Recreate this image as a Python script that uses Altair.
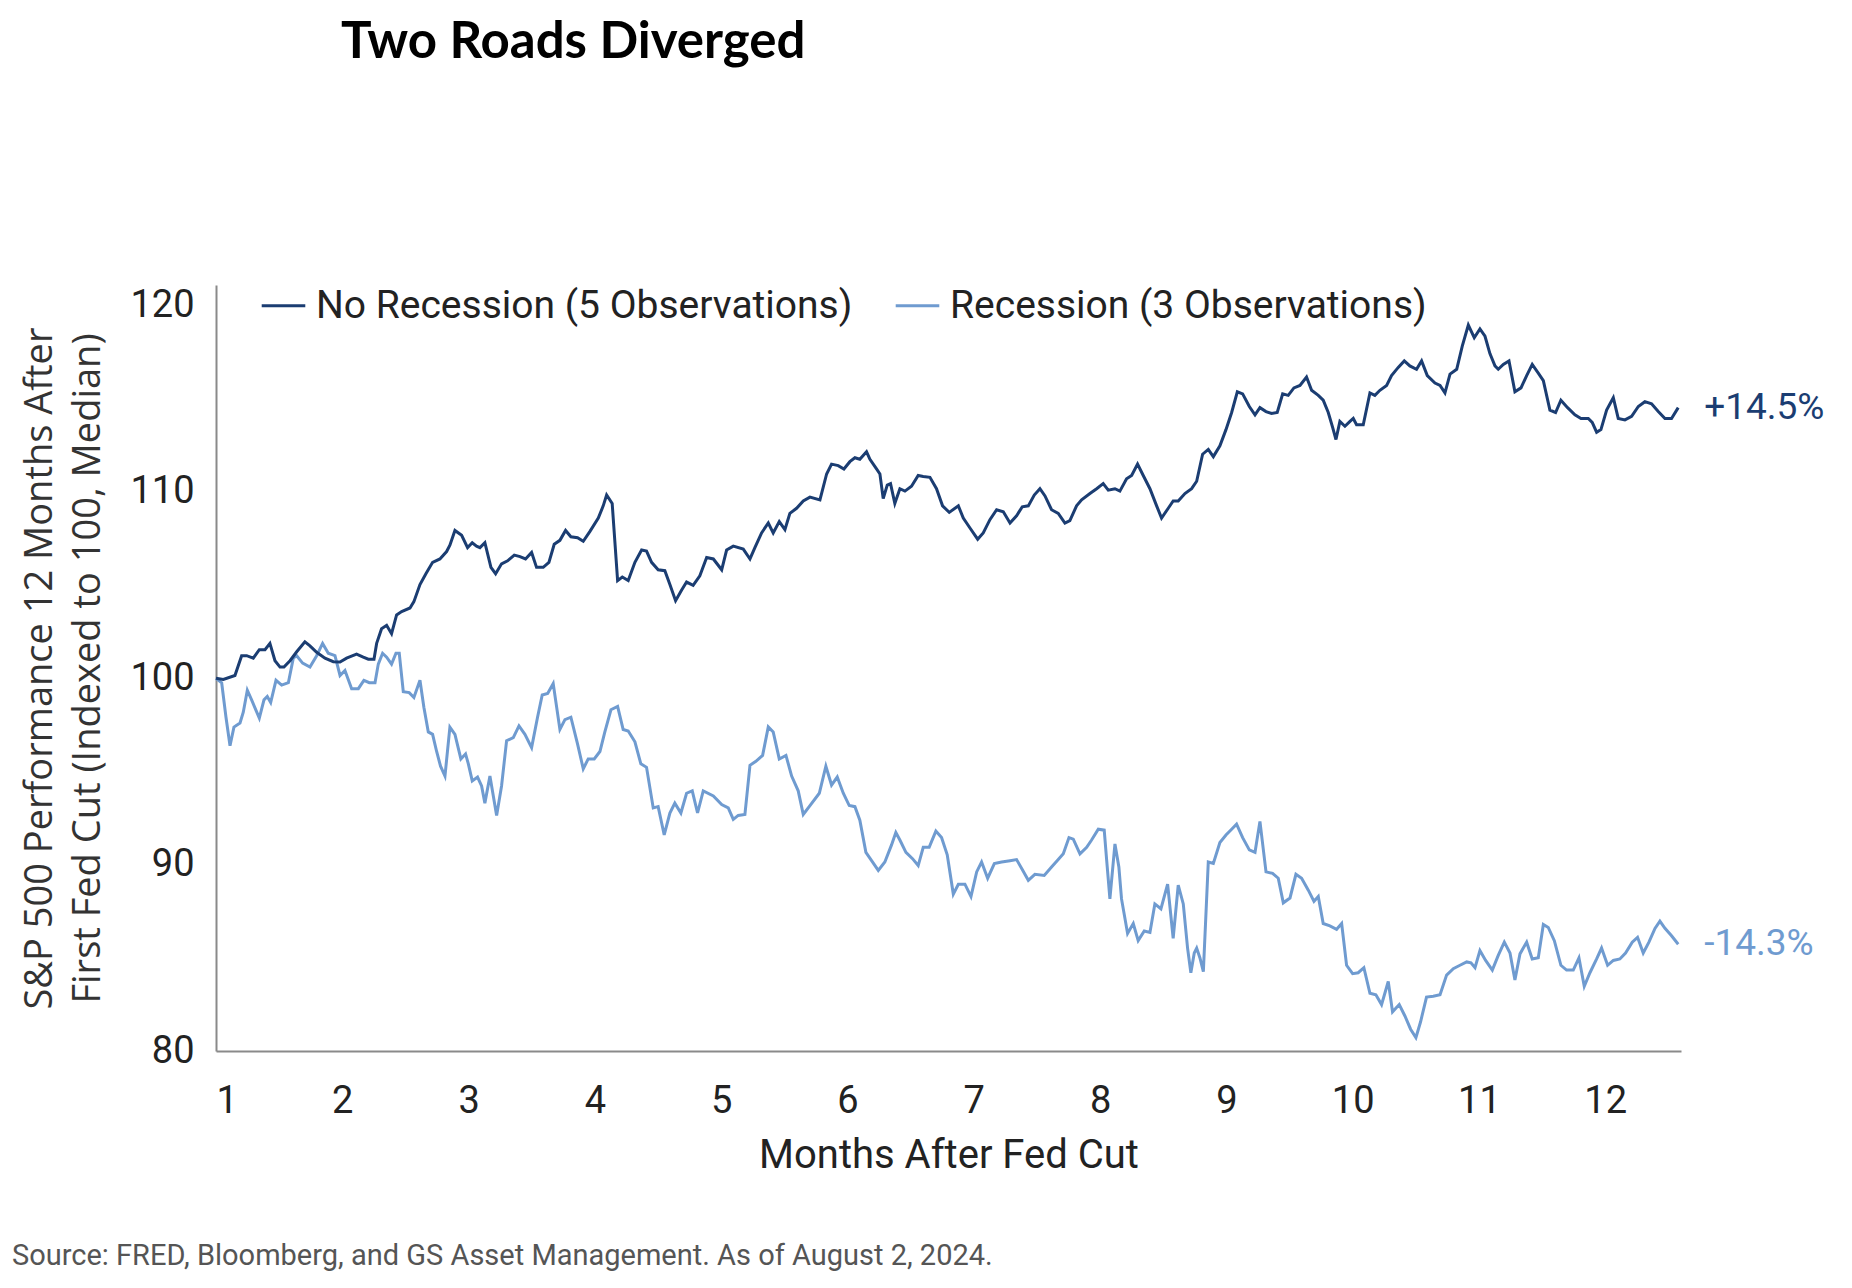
import altair as alt
import pandas as pd

# ---------------- data ----------------
series_names = ["No Recession (5 Observations)", "Recession (3 Observations)"]
series_colors = ["#1b3d72", "#6f9bd0"]
end_labels = ["+14.5%", "-14.3%"]

nr_month = [1.0, 1.058, 1.150, 1.203, 1.243, 1.295, 1.343, 1.388, 1.427, 1.467, 1.507, 1.538, 1.586, 1.639,
            1.704, 1.744, 1.797, 1.863, 1.929, 1.982, 2.034, 2.113, 2.166, 2.206, 2.251, 2.272, 2.311, 2.351,
            2.390, 2.430, 2.470, 2.536, 2.567, 2.615, 2.662, 2.715, 2.773, 2.826, 2.852, 2.892,
            2.945, 2.992, 3.029, 3.063, 3.090, 3.129, 3.177, 3.214, 3.261, 3.309, 3.362, 3.407, 3.451, 3.499,
            3.538, 3.591, 3.636, 3.678, 3.723, 3.768, 3.810, 3.863, 3.908, 3.961, 4.027, 4.066, 4.093, 4.137,
            4.180, 4.217, 4.264, 4.317, 4.370, 4.409, 4.449, 4.501, 4.554, 4.594, 4.639, 4.686, 4.726, 4.778,
            4.831, 4.885, 4.938, 5.004, 5.043, 5.096, 5.175, 5.228, 5.267, 5.320, 5.373, 5.412, 5.460, 5.505,
            5.544, 5.597, 5.650, 5.703, 5.782, 5.835, 5.874, 5.927, 5.972, 6.019, 6.059, 6.098, 6.151, 6.178,
            6.230, 6.257, 6.283, 6.315, 6.341, 6.375, 6.415, 6.455, 6.507, 6.560, 6.600, 6.653, 6.705, 6.753,
            6.806, 6.878, 6.917, 6.970, 7.031, 7.075, 7.128, 7.181, 7.234, 7.287, 7.339, 7.384, 7.432, 7.479,
            7.524, 7.564, 7.616, 7.669, 7.722, 7.761, 7.814, 7.854, 7.920, 7.973, 8.025, 8.065, 8.118, 8.157,
            8.210, 8.250, 8.297, 8.342, 8.395, 8.448, 8.487, 8.540, 8.579, 8.619, 8.672, 8.725,
            8.765, 8.812, 8.857, 8.897, 8.949, 8.997, 9.042, 9.087, 9.129, 9.182, 9.227, 9.266, 9.314, 9.358,
            9.403, 9.446, 9.490, 9.535, 9.583, 9.635, 9.675, 9.728, 9.767, 9.807, 9.841, 9.868, 9.899, 9.939,
            9.979, 10.005, 10.031, 10.084, 10.137, 10.176, 10.216, 10.269, 10.308, 10.361, 10.409, 10.453,
            10.506, 10.546, 10.591, 10.652, 10.692, 10.731, 10.771, 10.824, 10.868, 10.916, 10.963, 11.008,
            11.048, 11.087, 11.127, 11.153, 11.193, 11.238, 11.285, 11.333, 11.378, 11.422, 11.470, 11.510,
            11.562, 11.607, 11.649, 11.702, 11.760, 11.808, 11.866, 11.897, 11.932, 11.966, 12.011, 12.064,
            12.103, 12.156, 12.209, 12.262, 12.314, 12.367, 12.420, 12.473, 12.525, 12.578]
nr_value = [100.0, 99.94, 100.15, 101.21, 101.21, 101.08, 101.53, 101.53, 101.87, 100.94, 100.60, 100.60, 100.94, 101.42,
            101.95, 101.74, 101.39, 101.08, 100.89, 100.87, 101.08, 101.29, 101.13, 101.02, 101.02, 101.87, 102.66, 102.84,
            102.39, 103.40, 103.58, 103.77, 104.11, 105.03, 105.61, 106.22, 106.40, 106.80, 107.14, 107.93,
            107.67, 107.01, 107.27, 107.09, 107.01, 107.27, 105.95, 105.61, 106.14, 106.30, 106.61, 106.53, 106.40, 106.75,
            105.95, 105.95, 106.22, 107.19, 107.40, 107.93, 107.59, 107.54, 107.35, 107.88, 108.59, 109.25, 109.83, 109.38,
            105.24, 105.43, 105.24, 106.22, 106.88, 106.82, 106.22, 105.82, 105.77, 105.03, 104.16, 104.72, 105.16, 104.98,
            105.50, 106.48, 106.40, 105.82, 106.88, 107.09, 106.93, 106.40, 107.01, 107.80, 108.33, 107.80, 108.41, 107.98,
            108.85, 109.12, 109.51, 109.72, 109.57, 110.96, 111.49, 111.41, 111.23, 111.62, 111.83, 111.75, 112.15, 111.75,
            111.23, 110.96, 109.64, 110.36, 110.44, 109.38, 110.17, 110.04, 110.30, 110.88, 110.83, 110.78, 110.17, 109.25,
            108.90, 109.25, 108.59, 108.06, 107.46, 107.80, 108.51, 109.04, 108.93, 108.33, 108.72, 109.20, 109.25, 109.83,
            110.17, 109.78, 109.04, 108.85, 108.33, 108.46, 109.25, 109.57, 109.91, 110.17, 110.44, 110.09, 110.17, 110.04,
            110.70, 110.88, 111.49, 110.88, 110.17, 109.25, 108.59, 109.12, 109.51, 109.51, 109.91, 110.17,
            110.57, 112.02, 112.28, 111.89, 112.47, 113.34, 114.26, 115.37, 115.26, 114.58, 114.13, 114.52, 114.31, 114.21,
            114.26, 115.26, 115.18, 115.58, 115.71, 116.16, 115.45, 115.18, 114.92, 114.26, 113.47, 112.81, 113.78, 113.52,
            113.78, 113.94, 113.60, 113.60, 115.31, 115.18, 115.45, 115.71, 116.24, 116.68, 117.03, 116.76,
            116.58, 117.03, 116.24, 115.84, 115.71, 115.31, 116.32, 116.58, 117.82, 118.95, 118.27, 118.74,
            118.35, 117.42, 116.76, 116.58, 116.84, 117.03, 115.37, 115.58, 116.24, 116.84, 116.37, 115.97,
            114.39, 114.26, 114.92, 114.52, 114.13, 113.94, 113.94, 113.73, 113.20, 113.34, 114.39, 115.05,
            113.94, 113.86, 114.05, 114.58, 114.84, 114.73, 114.31, 113.94, 113.94, 114.52]

r_month = [1.0, 1.045, 1.079, 1.111, 1.142, 1.190, 1.216, 1.248, 1.282, 1.343, 1.380, 1.406, 1.433, 1.475,
           1.520, 1.573, 1.612, 1.639, 1.686, 1.744, 1.797, 1.844, 1.889, 1.942, 1.982, 2.021, 2.074, 2.127,
           2.171, 2.214, 2.259, 2.285, 2.319, 2.351, 2.390, 2.425, 2.451, 2.483, 2.530, 2.567, 2.615, 2.646,
           2.681, 2.715, 2.747, 2.778, 2.813, 2.852, 2.892,
           2.939, 2.976, 2.998, 3.029, 3.071, 3.103, 3.129, 3.169, 3.222, 3.261, 3.301, 3.354, 3.399, 3.446,
           3.499, 3.546, 3.583, 3.626, 3.670, 3.723, 3.763, 3.810, 3.863, 3.908, 3.947, 3.995, 4.040, 4.079,
           4.127, 4.180, 4.224, 4.264, 4.317, 4.364, 4.409, 4.462, 4.501, 4.549, 4.594, 4.633, 4.681, 4.726,
           4.771, 4.813, 4.858,
           4.938, 5.004, 5.056, 5.096, 5.135, 5.188, 5.228, 5.275, 5.328, 5.373, 5.412, 5.460, 5.513, 5.558,
           5.610, 5.650, 5.703, 5.777, 5.829, 5.874, 5.919, 5.967, 6.014, 6.059, 6.098, 6.146, 6.191, 6.244,
           6.296, 6.349, 6.383, 6.415, 6.463, 6.515, 6.560, 6.600, 6.647, 6.700, 6.745, 6.790,
           6.838, 6.878, 6.930, 6.978, 7.023, 7.062, 7.110, 7.163, 7.221, 7.287, 7.339, 7.384, 7.432, 7.484,
           7.558, 7.616, 7.669, 7.709, 7.754, 7.788, 7.841, 7.894, 7.933, 7.986, 8.033, 8.052, 8.078, 8.118,
           8.149, 8.170, 8.218, 8.263, 8.302, 8.350, 8.395, 8.434, 8.482, 8.535, 8.579, 8.619, 8.659, 8.693,
           8.719, 8.746,
           8.765, 8.791, 8.818, 8.857, 8.897, 8.949, 8.997, 9.042, 9.081, 9.129, 9.182, 9.227, 9.266, 9.314,
           9.366, 9.411, 9.451, 9.504, 9.551, 9.596, 9.649, 9.694, 9.728, 9.767, 9.820, 9.873, 9.913, 9.952,
           10.000, 10.044, 10.089, 10.137, 10.184, 10.229, 10.282, 10.316, 10.369, 10.414, 10.459, 10.501,
           10.538, 10.585, 10.638,
           10.692, 10.744, 10.797, 10.850, 10.903, 10.937, 10.969, 11.008, 11.053, 11.106, 11.153, 11.201,
           11.246, 11.285, 11.325, 11.378, 11.422, 11.470, 11.510, 11.549, 11.597, 11.649, 11.694, 11.747,
           11.792, 11.834, 11.879, 11.932, 11.971, 12.019, 12.064, 12.116, 12.161, 12.214, 12.256, 12.301,
           12.346, 12.394, 12.433, 12.473, 12.525, 12.578]
r_value = [100.0, 99.76, 97.91, 96.38, 97.38, 97.60, 98.18, 99.36, 98.84, 97.86, 98.84, 99.02, 98.70, 99.89,
           99.63, 99.76, 101.08, 101.21, 100.81, 100.60, 101.21, 101.87, 101.34, 101.21, 100.15, 100.42, 99.44, 99.44,
           99.89, 99.76, 99.76, 100.76, 101.34, 101.13, 100.76, 101.34, 101.34, 99.28, 99.23, 98.97, 99.89, 98.44,
           97.12, 96.99, 96.07, 95.28, 94.75, 97.38, 96.99,
           95.67, 95.94, 95.41, 94.49, 94.70, 94.22, 93.30, 94.75, 92.64, 94.22, 96.65, 96.81, 97.44, 96.99,
           96.28, 97.91, 99.10, 99.18, 99.71, 97.25, 97.78, 97.91, 96.46, 95.14, 95.67, 95.67, 96.07, 97.12,
           98.31, 98.49, 97.25, 97.17, 96.59, 95.41, 95.22, 93.04, 93.11, 91.59, 92.77, 93.30, 92.77, 93.83,
           93.96, 92.77, 93.96,
           93.69, 93.22, 93.04, 92.43, 92.64, 92.69, 95.33, 95.54, 95.86, 97.39, 97.12, 95.67, 95.86, 94.75,
           93.96, 92.69, 93.17, 93.83, 95.28, 94.27, 94.70, 93.83, 93.17, 93.11, 92.38, 90.66, 90.21, 89.69,
           90.14, 91.06, 91.72, 91.32, 90.66, 90.32, 89.95, 90.93, 90.93, 91.80, 91.45, 90.53,
           88.42, 88.95, 88.95, 88.29, 89.61, 90.14, 89.27, 90.06, 90.14, 90.21, 90.27, 89.74, 89.16, 89.48,
           89.42, 89.87, 90.27, 90.58, 91.45, 91.37, 90.58, 90.93, 91.32, 91.90, 91.85, 90.27, 88.16, 91.11,
           89.87, 88.16, 86.31, 86.84, 85.92, 86.44, 86.36, 87.89, 87.63, 88.95, 86.05, 88.90, 87.89, 85.52,
           84.20, 85.26,
           85.52, 84.99, 84.26, 90.14, 90.06, 91.19, 91.59, 91.90, 92.17, 91.45, 90.79, 90.66, 92.32, 89.61,
           89.53, 89.27, 87.95, 88.21, 89.48, 89.27, 88.63, 88.03, 88.29, 86.84, 86.71, 86.53, 86.84, 84.60,
           84.15, 84.20, 84.47, 83.10, 83.02, 82.49, 83.73, 82.10, 82.49, 81.88, 81.17, 80.72,
           81.57, 82.89, 82.94,
           83.02, 84.07, 84.42, 84.60, 84.78, 84.73, 84.47, 85.39, 84.86, 84.34, 85.13, 85.84,
           85.26, 83.81, 85.21, 85.84, 84.94, 85.00, 86.79, 86.63, 85.92, 84.60, 84.34, 84.34,
           85.00, 83.47, 84.20, 84.94, 85.52, 84.60, 84.86, 84.94, 85.26, 85.84, 86.10, 85.26,
           85.84, 86.58, 86.97, 86.58, 86.18, 85.73]

x_ticks = list(range(1, 13))
y_ticks = [80, 90, 100, 110, 120]
title_text = "Two Roads Diverged"
y_title = ["S&P 500 Performance 12 Months After", "First Fed Cut (Indexed to 100, Median)"]
x_title = "Months After Fed Cut"
source_text = "Source: FRED, Bloomberg, and GS Asset Management. As of August 2, 2024."

# ---------------- tables ----------------
# recession first so that the dark line is drawn on top
df = pd.concat([
    pd.DataFrame({"month": r_month, "value": r_value, "series": series_names[1]}),
    pd.DataFrame({"month": nr_month, "value": nr_value, "series": series_names[0]}),
], ignore_index=True)

df_end = pd.DataFrame({
    "month": [nr_month[-1], r_month[-1]],
    "value": [nr_value[-1], r_value[-1]],
    "series": series_names,
    "label": end_labels,
})
df_src = pd.DataFrame({"txt": [source_text]})

color_scale = alt.Scale(domain=series_names, range=series_colors)
x_scale = alt.Scale(domain=[1, 12.6], nice=False, zero=False)
y_scale = alt.Scale(domain=[80, 121.1], nice=False, zero=False)

lines = alt.Chart(df).mark_line(strokeWidth=3).encode(
    x=alt.X("month:Q", scale=x_scale,
            axis=alt.Axis(values=x_ticks, title=x_title, format="d", labelPadding=31,
                          titlePadding=15, labelFontSize=38, titleFontSize=40)),
    y=alt.Y("value:Q", scale=y_scale,
            axis=alt.Axis(values=y_ticks, title=y_title, labelPadding=22, titlePadding=22,
                          labelFontSize=38, titleFontSize=38, titleFont="Open Sans",
                          titleLineHeight=48, titleColor="#333333")),
    color=alt.Color("series:N", scale=color_scale,
                    legend=alt.Legend(title=None, orient="none", legendX=44, legendY=-3,
                                      direction="horizontal", symbolType="stroke",
                                      symbolStrokeWidth=3, symbolSize=1900,
                                      labelFontSize=39, labelFont="Roboto", labelColor="#222222",
                                      labelOffset=9, columnPadding=36, labelLimit=900)),
    detail="series:N",
)

ends = alt.Chart(df_end).mark_text(align="left", baseline="middle", dx=26, fontSize=37,
                                   font="Roboto").encode(
    x=alt.X("month:Q", scale=x_scale),
    y=alt.Y("value:Q", scale=y_scale),
    text="label:N",
    color=alt.Color("series:N", scale=color_scale, legend=None),
)

source = alt.Chart(df_src).mark_text(align="left", baseline="middle", fontSize=29,
                                     font="Roboto", color="#555555").encode(
    x=alt.value(-204), y=alt.value(971), text="txt:N")

chart = alt.layer(lines, ends, source).properties(
    width=1465, height=766,
    title=alt.TitleParams(title_text, anchor="start", frame="group", dx=125, offset=173,
                          baseline="alphabetic", fontSize=51, font="Lato",
                          fontWeight="bold", color="#000000"),
    autosize=alt.AutoSizeParams(type="none"),
    padding={"left": 208, "top": 277, "right": 160, "bottom": 220},
).configure_view(stroke=None).configure_axis(
    domainColor="#8a8a8a", domainWidth=2, ticks=False, tickSize=0, grid=False,
    labelFont="Roboto", labelColor="#222222", titleFont="Roboto", titleColor="#222222",
    titleFontWeight="normal",
)

chart.save("out.html", embed_options={"renderer": "svg", "actions": False})
